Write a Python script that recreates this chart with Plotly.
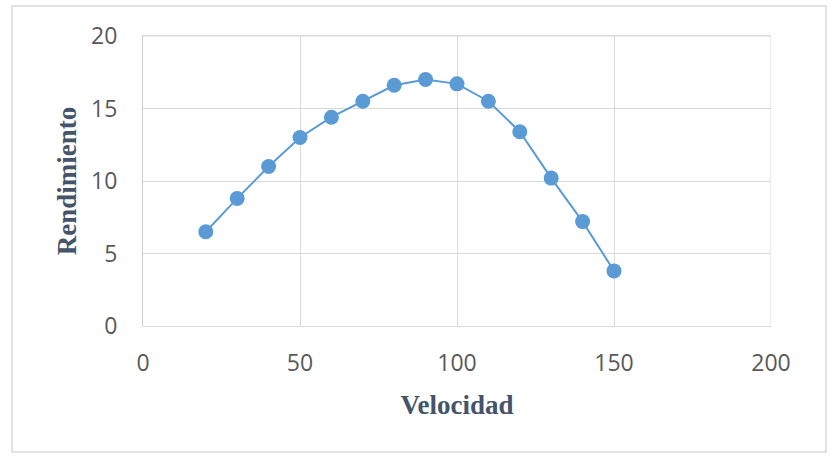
import plotly.graph_objects as go

velocidad = [20, 30, 40, 50, 60, 70, 80, 90, 100, 110, 120, 130, 140, 150]
rendimiento = [6.5, 8.8, 11.0, 13.0, 14.4, 15.5, 16.6, 17.0, 16.7, 15.5, 13.4, 10.2, 7.2, 3.8]

x_ticks = [0, 50, 100, 150, 200]
y_ticks = [0, 5, 10, 15, 20]

blue = "#5B9BD5"
grid = "#D9D9D9"

fig = go.Figure()
fig.add_trace(go.Scatter(
    x=velocidad, y=rendimiento, mode="lines+markers",
    line=dict(color=blue, width=2),
    marker=dict(color=blue, size=15, line=dict(width=0)),
    showlegend=False,
))

L, R, T, B = 143, 63, 36, 130
W, H = 834, 456
pw, ph = W - L - R, H - T - B

fig.update_layout(
    width=W, height=H,
    margin=dict(l=L, r=R, t=T, b=B, pad=0),
    paper_bgcolor="white", plot_bgcolor="white",
    font=dict(family="Open Sans", color="#595959", size=23),
    xaxis=dict(
        range=[0, 200], tickvals=x_ticks, ticktext=[str(v) for v in x_ticks],
        showgrid=True, gridcolor=grid, gridwidth=1,
        showline=True, linecolor=grid, linewidth=1, mirror=True,
        zeroline=False, ticks="", ticklabelstandoff=16,
        title=dict(text="<b>Velocidad</b>", standoff=18,
                   font=dict(family="Liberation Serif", size=27, color="#44546A")),
    ),
    yaxis=dict(
        range=[0, 20], tickvals=y_ticks, ticktext=[str(v) for v in y_ticks],
        showgrid=True, gridcolor=grid, gridwidth=1,
        showline=True, linecolor="#C9CCD6", linewidth=1, mirror=False,
        zeroline=False, ticks="", ticklabelstandoff=20,
        title=dict(text="<b>Rendimiento</b>", standoff=6,
                   font=dict(family="Liberation Serif", size=27, color="#44546A")),
    ),
)

# right and top borders of plot area
fig.add_shape(type="line", xref="x", yref="paper", x0=200, x1=200, y0=0, y1=1,
              line=dict(color=grid, width=1))
fig.add_shape(type="line", xref="paper", yref="y", x0=0, x1=1, y0=20, y1=20,
              line=dict(color=grid, width=1))

# outer chart border
bx0, bx1, by0, by1 = 12, 826, 6, 452
fig.add_shape(type="rect", xref="paper", yref="paper",
              x0=(bx0 - L) / pw, x1=(bx1 - L) / pw,
              y0=(H - B - by1) / ph, y1=(H - B - by0) / ph,
              line=dict(color="#D9D9D9", width=1.5), layer="below")

fig.write_html("out.html")
